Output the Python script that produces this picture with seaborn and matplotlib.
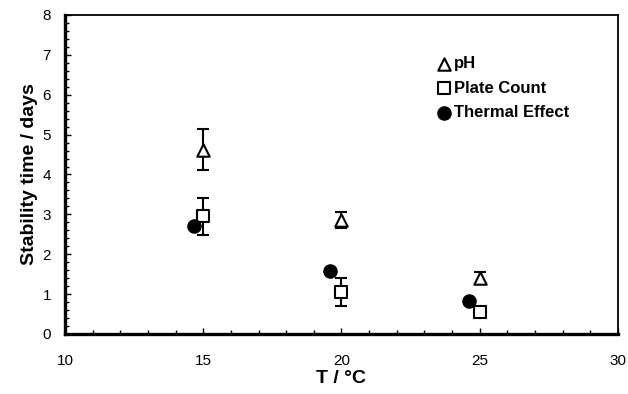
import matplotlib
matplotlib.use("Agg")
import matplotlib.pyplot as plt
import seaborn as sns
import pandas as pd
from matplotlib.ticker import MultipleLocator

temps_ph = [15, 20, 25]
ph_vals = [4.62, 2.85, 1.40]
ph_err = [0.52, 0.20, 0.15]

temps_pc = [15, 20, 25]
pc_vals = [2.95, 1.05, 0.55]
pc_err = [0.47, 0.35, 0.10]

temps_th = [14.65, 19.6, 24.6]
th_vals = [2.72, 1.57, 0.83]

sns.set_style("ticks")
plt.rcParams['font.family'] = ['Liberation Sans', 'DejaVu Sans']
plt.rcParams['text.color'] = 'black'
plt.rcParams['axes.labelcolor'] = 'black'

fig = plt.figure(figsize=(6.28, 3.94), dpi=100)
ax = fig.add_axes([0.1035, 0.1523, 0.8805, 0.8097])

ax.errorbar(temps_ph, ph_vals, yerr=ph_err, fmt='none', ecolor='black',
            elinewidth=1.5, capsize=4, capthick=1.5, zorder=2)
ax.errorbar(temps_pc, pc_vals, yerr=pc_err, fmt='none', ecolor='black',
            elinewidth=1.5, capsize=4, capthick=1.5, zorder=2)

df_ph = pd.DataFrame({"T": temps_ph, "v": ph_vals})
df_pc = pd.DataFrame({"T": temps_pc, "v": pc_vals})
df_th = pd.DataFrame({"T": temps_th, "v": th_vals})

sns.scatterplot(data=df_ph, x="T", y="v", marker='^', s=80, facecolor='white',
                edgecolor='black', linewidth=1.5, ax=ax, label='pH', zorder=3)
sns.scatterplot(data=df_pc, x="T", y="v", marker='s', s=75, facecolor='white',
                edgecolor='black', linewidth=1.5, ax=ax, label='Plate Count', zorder=3)
sns.scatterplot(data=df_th, x="T", y="v", marker='o', s=110, color='black',
                edgecolor='black', linewidth=0, ax=ax, label='Thermal Effect', zorder=3)

ax.set_xlim(10, 30)
ax.set_ylim(0, 8)
ax.xaxis.set_major_locator(MultipleLocator(5))
ax.xaxis.set_minor_locator(MultipleLocator(1))
ax.yaxis.set_major_locator(MultipleLocator(1))
ax.yaxis.set_minor_locator(MultipleLocator(0.2))
ax.tick_params(which='both', direction='in', length=3, width=1, colors='black',
               labelsize=11)
ax.tick_params(which='major', length=4)
ax.tick_params(axis='x', which='major', pad=14.5)
ax.tick_params(axis='y', which='major', pad=10)

for side in ['left', 'bottom']:
    ax.spines[side].set_linewidth(2.4)
for side in ['top', 'right']:
    ax.spines[side].set_linewidth(1.3)
for s in ax.spines.values():
    s.set_color('black')

ax.set_xlabel("T / °C", fontsize=14, fontweight='bold', labelpad=1)
ax.set_ylabel("Stability time / days", fontsize=14, fontweight='bold', labelpad=3)

leg = ax.legend(loc='upper left', bbox_to_anchor=(0.659, 0.892), frameon=False,
                handletextpad=0.1, handlelength=1.0, borderaxespad=0,
                labelspacing=0.58, prop={'weight': 'bold', 'size': 12})

fig.savefig("out.png", dpi=100)
